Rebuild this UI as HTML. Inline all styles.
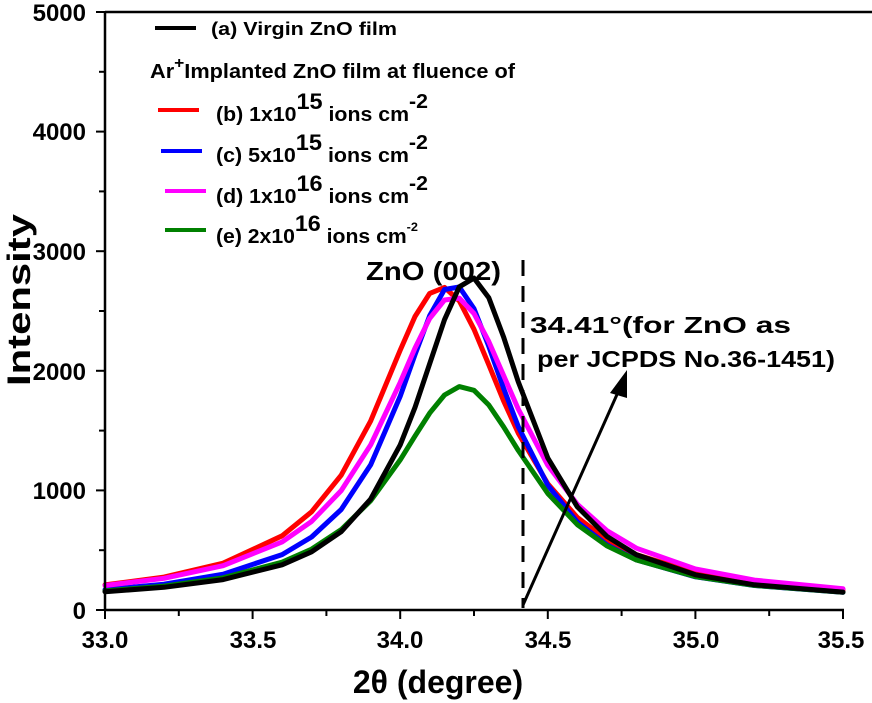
<!DOCTYPE html>
<html><head><meta charset="utf-8"><style>
html,body{margin:0;padding:0;background:#fff;}
svg{display:block;font-family:"Liberation Sans",sans-serif;font-weight:bold;}
</style></head><body>
<svg width="872" height="703" viewBox="0 0 872 703" xmlns="http://www.w3.org/2000/svg">
<g fill="none" stroke-width="5" stroke-linejoin="round" stroke-linecap="round">
<polyline stroke="#f00" points="105,584.9 164,577.1 223.1,563.2 282.1,535.8 311.6,511.8 341.2,475.2 370.7,420.9 400.2,350.2 415,316.5 429.7,293.4 444.5,287.4 459.3,300.9 474,329.3 488.8,364.8 503.5,400.7 518.3,433.2 547.8,483.8 577.4,517.5 606.9,539.7 636.4,554.6 695.4,572.6 754.4,582.3 843,590"/>
<polyline stroke="#00f" points="105,589.7 164,584.2 223.1,574.2 282.1,554.6 311.6,537 341.2,509.5 370.7,464.8 400.2,396.3 415,354.7 429.7,315.6 444.5,289.5 459.3,287 474,308.6 488.8,346.4 503.5,388.1 518.3,426.7 547.8,485.3 577.4,522.1 606.9,544.9 636.4,559.9 695.4,576.8 754.4,585.5 843,592.2"/>
<polyline stroke="#f0f" points="105,585.5 164,578.3 223.1,565.7 282.1,541.9 311.6,521.4 341.2,490.6 370.7,444.8 400.2,382.4 415,348.1 429.7,318.4 444.5,300 459.3,298.1 474,313.5 488.8,341.6 503.5,375.3 518.3,409.1 547.8,465.3 577.4,504.4 606.9,530.6 636.4,548.2 695.4,569 754.4,580.1 843,588.8"/>
<polyline stroke="#008000" points="105,590.9 164,586.1 223.1,577.8 282.1,562.2 311.6,549.1 341.2,529.6 370.7,500.7 400.2,459.9 415,436.1 429.7,413.1 444.5,395 459.3,386.6 474,390.3 488.8,405 503.5,426.7 518.3,450.5 547.8,493.5 577.4,524.7 606.9,545.9 636.4,560 695.4,576.6 754.4,585.4 843,592.2"/>
<polyline stroke="#000" points="105,591.7 164,587.3 223.1,579.6 282.1,564.8 311.6,551.8 341.2,531.7 370.7,499 400.2,444.9 415,407.4 429.7,363.7 444.5,319.7 459.3,286.8 474,278.1 488.8,297.7 503.5,336.7 518.3,381.9 547.8,458 577.4,506.9 606.9,536.4 636.4,554.7 695.4,574.8 754.4,584.8 843,592.1"/>
</g>
<g stroke="#000" stroke-width="2.5" fill="none">
<line x1="105" y1="12" x2="105" y2="611"/>
<line x1="104" y1="610" x2="844" y2="610"/>
<line x1="105" y1="12" x2="872" y2="12"/>
</g>
<g stroke="#000" stroke-width="2">
<line x1="96" y1="610" x2="105" y2="610"/><line x1="99" y1="550.2" x2="105" y2="550.2"/>
<line x1="96" y1="490.4" x2="105" y2="490.4"/><line x1="99" y1="430.6" x2="105" y2="430.6"/>
<line x1="96" y1="370.8" x2="105" y2="370.8"/><line x1="99" y1="311" x2="105" y2="311"/>
<line x1="96" y1="251.2" x2="105" y2="251.2"/><line x1="99" y1="191.4" x2="105" y2="191.4"/>
<line x1="96" y1="131.6" x2="105" y2="131.6"/><line x1="99" y1="71.8" x2="105" y2="71.8"/>
<line x1="96" y1="12" x2="105" y2="12"/>
<line x1="105" y1="610" x2="105" y2="619"/><line x1="178.8" y1="610" x2="178.8" y2="616"/>
<line x1="252.6" y1="610" x2="252.6" y2="619"/><line x1="326.4" y1="610" x2="326.4" y2="616"/>
<line x1="400.2" y1="610" x2="400.2" y2="619"/><line x1="474" y1="610" x2="474" y2="616"/>
<line x1="547.8" y1="610" x2="547.8" y2="619"/><line x1="621.6" y1="610" x2="621.6" y2="616"/>
<line x1="695.4" y1="610" x2="695.4" y2="619"/><line x1="769.2" y1="610" x2="769.2" y2="616"/>
<line x1="843" y1="610" x2="843" y2="619"/>
</g>
<g font-size="24" text-anchor="end">
<text x="86" y="619">0</text>
<text x="86" y="499">1000</text>
<text x="86" y="380">2000</text>
<text x="86" y="260">3000</text>
<text x="86" y="140">4000</text>
<text x="86" y="21">5000</text>
</g>
<g font-size="24" text-anchor="middle">
<text x="105" y="648">33.0</text>
<text x="253" y="648">33.5</text>
<text x="400" y="648">34.0</text>
<text x="548" y="648">34.5</text>
<text x="696" y="648">35.0</text>
<text x="841" y="648">35.5</text>
</g>
<text x="438" y="693" font-size="32" text-anchor="middle">2θ (degree)</text>
<text transform="translate(30,300) rotate(-90)" font-size="32" text-anchor="middle" textLength="172" lengthAdjust="spacingAndGlyphs">Intensity</text>
<g stroke-width="4">
<line x1="155" y1="28" x2="196" y2="28" stroke="#000"/>
<line x1="158" y1="110" x2="199" y2="110" stroke="#f00"/>
<line x1="161" y1="151" x2="202" y2="151" stroke="#00f"/>
<line x1="165" y1="191" x2="206" y2="191" stroke="#f0f"/>
<line x1="165" y1="230" x2="206" y2="230" stroke="#008000"/>
</g>
<g font-size="20">
<text x="211" y="35" font-size="18" textLength="186" lengthAdjust="spacingAndGlyphs">(a) Virgin ZnO film</text>
<text x="150" y="78" textLength="365" lengthAdjust="spacingAndGlyphs">Ar<tspan dy="-10" font-size="16">+</tspan><tspan dy="10">Implanted ZnO film at fluence of</tspan></text>
<text x="216" y="121" textLength="212" lengthAdjust="spacingAndGlyphs">(b) 1x10<tspan dy="-12" font-size="22">15</tspan><tspan dy="12"> ions cm</tspan><tspan dy="-13">-2</tspan></text>
<text x="216" y="162" textLength="212" lengthAdjust="spacingAndGlyphs">(c) 5x10<tspan dy="-12" font-size="22">15</tspan><tspan dy="12"> ions cm</tspan><tspan dy="-13">-2</tspan></text>
<text x="216" y="203" textLength="212" lengthAdjust="spacingAndGlyphs">(d) 1x10<tspan dy="-12" font-size="22">16</tspan><tspan dy="12"> ions cm</tspan><tspan dy="-13">-2</tspan></text>
<text x="216" y="243" textLength="202" lengthAdjust="spacingAndGlyphs">(e) 2x10<tspan dy="-12" font-size="22">16</tspan><tspan dy="12"> ions cm</tspan><tspan dy="-12" font-size="12">-2</tspan></text>
</g>
<text x="366" y="280" font-size="26" textLength="135" lengthAdjust="spacingAndGlyphs">ZnO (002)</text>
<line x1="523" y1="260" x2="523" y2="608" stroke="#000" stroke-width="3" stroke-dasharray="16,10"/>
<text x="530" y="333" font-size="23" textLength="261" lengthAdjust="spacingAndGlyphs">34.41°(for ZnO as</text>
<text x="537" y="367" font-size="23" textLength="298" lengthAdjust="spacingAndGlyphs">per JCPDS No.36-1451)</text>
<line x1="523" y1="605" x2="619" y2="390" stroke="#000" stroke-width="3"/>
<polygon points="627,370 610,393 627,398" fill="#000"/>
</svg>
</body></html>
